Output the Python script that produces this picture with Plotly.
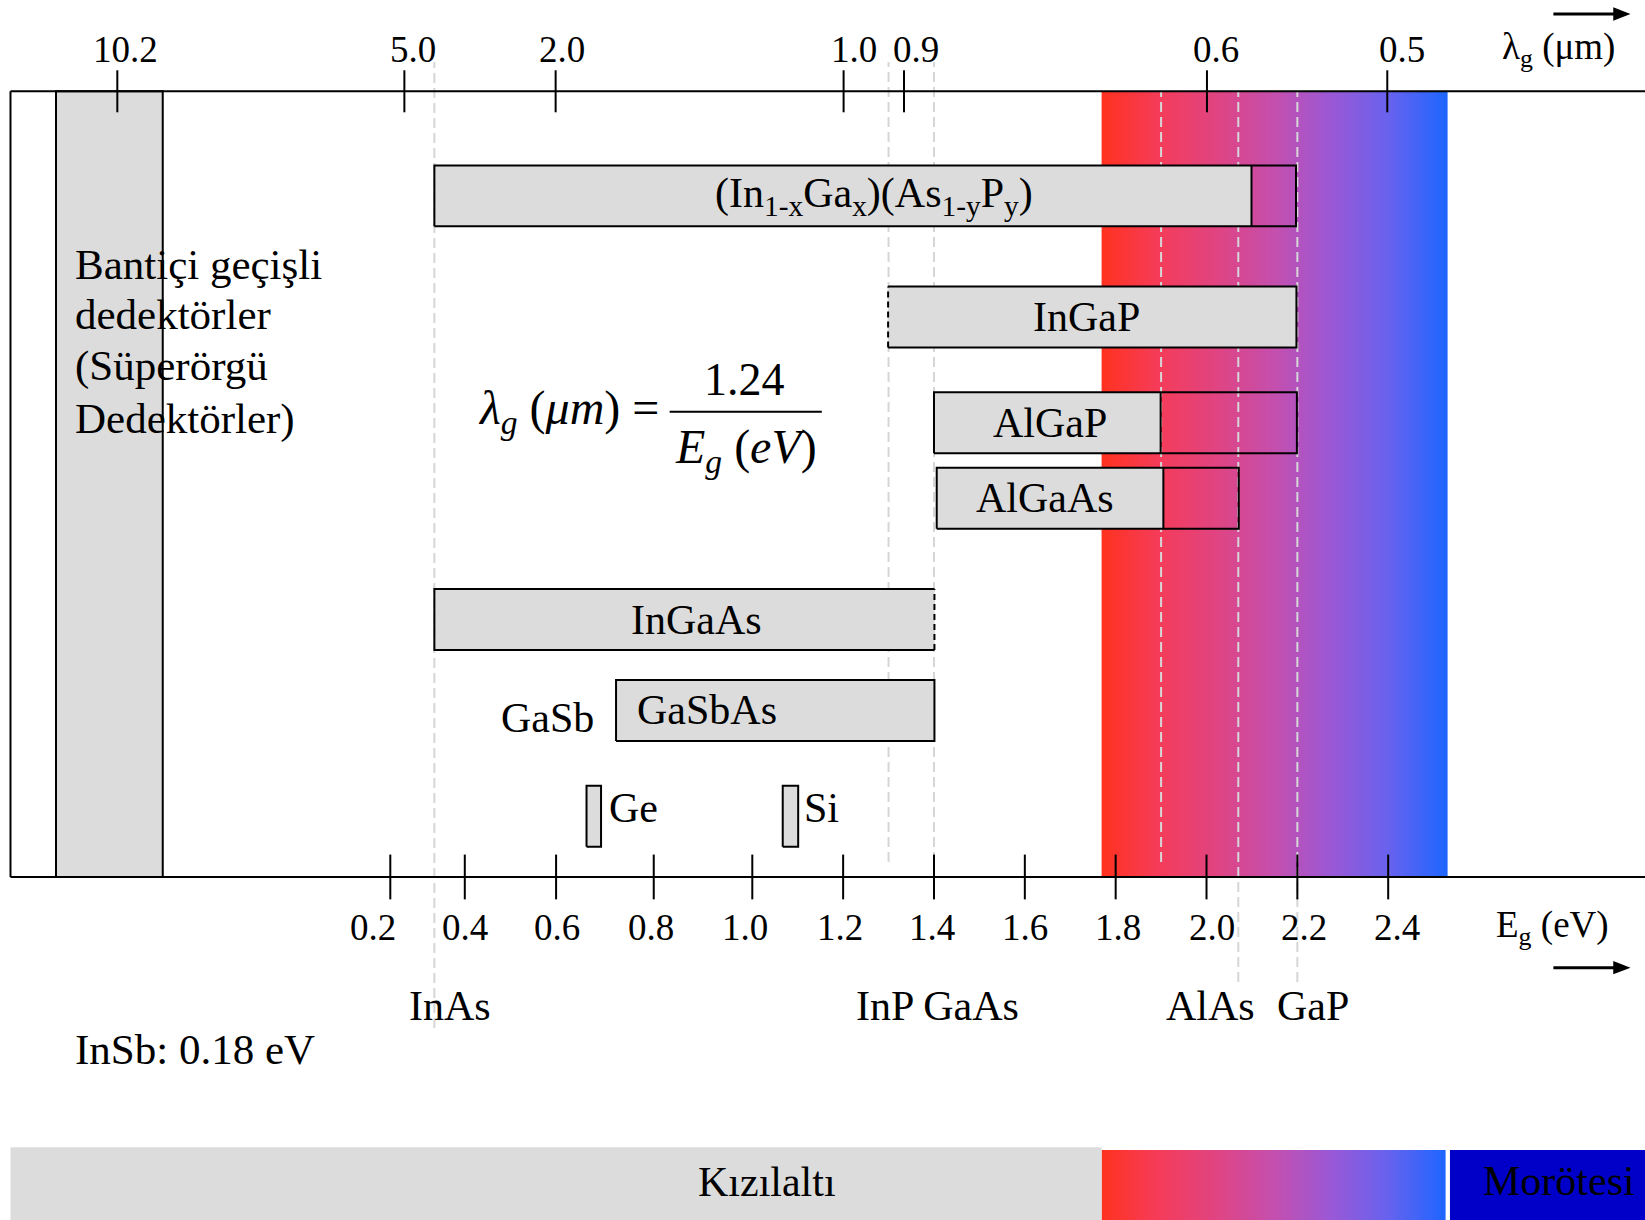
import numpy as np
import plotly.graph_objects as go

# ---------------- data (x positions on the eV axis) ----------------
ev_tick_labels = ["0.2", "0.4", "0.6", "0.8", "1.0", "1.2", "1.4", "1.6", "1.8", "2.0", "2.2", "2.4"]
ev_tick_pos = [0.203, 0.367, 0.568, 0.783, 1.0, 1.2, 1.4, 1.6, 1.8, 2.0, 2.2, 2.4]
ev_label_pos = [0.164, 0.367, 0.570, 0.778, 0.984, 1.192, 1.395, 1.600, 1.806, 2.011, 2.215, 2.420]

lam_tick_labels = ["10.2", "5.0", "2.0", "1.0", "0.9", "0.6", "0.5"]
lam_tick_pos = [-0.398, 0.234, 0.567, 1.201, 1.334, 2.001, 2.398]
lam_label_pos = [-0.381, 0.252, 0.581, 1.224, 1.360, 2.021, 2.430]

# compound band gaps (reference dashed lines), as drawn
ref_names = ["InAs", "InP", "GaAs", "", "AlAs", "GaP"]
ref_eg = [0.30, 1.30, 1.40, 1.90, 2.07, 2.20]

# compound labels under the axis
comp_labels = ["InAs", "InP GaAs", "AlAs", "GaP"]
comp_label_x = [0.334, 1.408, 2.008, 2.235]

# detector material ranges (eV)
bar_names = ["(In<sub>1-x</sub>Ga<sub>x</sub>)(As<sub>1-y</sub>P<sub>y</sub>)", "InGaP", "AlGaP",
             "AlGaAs", "InGaAs", "GaSbAs", "Ge", "Si"]
bar_start = [0.300, 1.299, 1.400, 1.406, 0.300, 0.700, 0.635, 1.067]
bar_end = [2.197, 2.198, 2.199, 2.071, 1.401, 1.401, 0.667, 1.101]
bar_split = [2.099, None, 1.899, 1.905, None, None, None, None]   # beyond split: outline only
bar_dashed_edge = [None, "left", None, None, "right", None, None, None]

# intersubband (superlattice) detector band, visible band, UV
qwip_band = (-0.533, -0.298)
visible_band = (1.769, 2.530)
strip_visible = (1.769, 2.527)
strip_uv_start = 2.536

# ---------------- layout constants ----------------
FONT = "Liberation Serif, Times New Roman, serif"
GRAY = "#DCDCDC"
X_MIN, X_MAX = -0.6563, 2.9654
Y_MIN, Y_MAX = -4.366, 11.162
FRAME_LEFT = -0.6332
Y_BOT, Y_TOP = 0.0, 10.0
BAR_H = 0.775
bar_row = [8.669, 7.127, 5.781, 4.821, 3.277, 2.119, 0.772, 0.772]
bar_label_x = [1.269, 1.736, 1.655, 1.644, 0.877, 0.741, 0.679, 1.109]
bar_label_anchor = ["center", "center", "center", "center", "center", "left", "left", "left"]
bar_label_dy = [0, 0, 0, 0, 0, 0, 0.10, 0.10]
ref_top = [10.373, 10.373, 10.373, 10.0, 10.0, 10.0]
ref_bot = [-1.922, 0.191, 0.0, 0.191, -1.336, -1.336]
ARROW_X = (2.7637, 2.9335)
ARROW_Y = [10.984, -1.154]
HEAD_LEN, HEAD_HALF = 0.038, 0.085

grad_scale = [[0.0, "#FF3220"], [1 / 6, "#F43C5A"], [2 / 6, "#E04482"], [3 / 6, "#C44FAE"],
              [4 / 6, "#9A58D6"], [5 / 6, "#6762EE"], [1.0, "#1E66FF"]]

fig = go.Figure()


def rect_xy(x0, x1, y0, y1):
    return [x0, x1, x1, x0, x0], [y0, y0, y1, y1, y0]


def line(xs, ys, color="black", width=2, dash=None):
    fig.add_trace(go.Scatter(x=xs, y=ys, mode="lines", hoverinfo="skip",
                             line=dict(color=color, width=width, dash=dash)))


def fill(xs, ys, color, lw=0, lc="black"):
    fig.add_trace(go.Scatter(x=xs, y=ys, mode="lines", fill="toself", fillcolor=color,
                             hoverinfo="skip", line=dict(width=lw, color=lc)))


# visible-spectrum gradient inside the frame
n = 300
fig.add_trace(go.Heatmap(x=np.linspace(visible_band[0], visible_band[1], n + 1), y=[Y_BOT, Y_TOP],
                         z=[list(np.linspace(0, 1, n))], colorscale=grad_scale, zmin=0, zmax=1,
                         showscale=False, hoverinfo="skip", zsmooth=False))

# bottom strip: infrared / visible / ultraviolet
fill(*rect_xy(FRAME_LEFT, strip_visible[0], Y_MIN, -3.44), GRAY)
fig.add_trace(go.Heatmap(x=np.linspace(strip_visible[0], strip_visible[1], n + 1), y=[Y_MIN, -3.475],
                         z=[list(np.linspace(0, 1, n))], colorscale=grad_scale, zmin=0, zmax=1,
                         showscale=False, hoverinfo="skip", zsmooth=False))
fill(*rect_xy(strip_uv_start, X_MAX, Y_MIN, -3.475), "#0000C8")

# intersubband detectors band
fill(*rect_xy(qwip_band[0], qwip_band[1], Y_BOT, Y_TOP), GRAY, lw=2)

# reference dashed lines
for e, t, b in zip(ref_eg, ref_top, ref_bot):
    line([e, e], [b, t], color="#D6D6D6", width=2, dash="10px,5px")

# material bars
for i in range(len(bar_names)):
    s, e, sp, de = bar_start[i], bar_end[i], bar_split[i], bar_dashed_edge[i]
    y0, y1 = bar_row[i] - BAR_H / 2, bar_row[i] + BAR_H / 2
    fill(*rect_xy(s, sp if sp is not None else e, y0, y1), GRAY)
    if de == "left":
        line([s, e, e, s], [y0, y0, y1, y1])
        line([s, s], [y0, y1], dash="6px,4px")
    elif de == "right":
        line([e, s, s, e], [y0, y0, y1, y1])
        line([e, e], [y0, y1], dash="6px,4px")
    else:
        line(*rect_xy(s, e, y0, y1))
    if sp is not None:
        line([sp, sp], [y0, y1])

# frame
line([FRAME_LEFT, X_MAX], [Y_TOP, Y_TOP])
line([FRAME_LEFT, X_MAX], [Y_BOT, Y_BOT])
line([FRAME_LEFT, FRAME_LEFT], [Y_BOT, Y_TOP])

# tick marks
fig.add_trace(go.Scatter(x=ev_tick_pos, y=[Y_BOT] * len(ev_tick_pos), mode="markers", hoverinfo="skip",
                         marker=dict(symbol="line-ns", size=32, line=dict(width=2, color="black"))))
fig.add_trace(go.Scatter(x=lam_tick_pos, y=[Y_TOP] * len(lam_tick_pos), mode="markers", hoverinfo="skip",
                         marker=dict(symbol="line-ns", size=30, line=dict(width=2, color="black"))))

# direction arrows (shaft + filled head)
for y in ARROW_Y:
    line([ARROW_X[0], ARROW_X[1] - HEAD_LEN * 0.5], [y, y], width=3)
    fill([ARROW_X[1] - HEAD_LEN, ARROW_X[1], ARROW_X[1] - HEAD_LEN, ARROW_X[1] - HEAD_LEN],
         [y - HEAD_HALF, y, y + HEAD_HALF, y - HEAD_HALF], "black")

anns = []


def ann(text, x, y, size=42, xanchor="center"):
    anns.append(dict(text=text, x=x, y=y, xref="x", yref="y", showarrow=False, xanchor=xanchor,
                     yanchor="middle", font=dict(family=FONT, size=size, color="black")))


# tick labels
for t, x in zip(ev_tick_labels, ev_label_pos):
    ann(t, x, -0.643, size=37)
for t, x in zip(lam_tick_labels, lam_label_pos):
    ann(t, x, 10.529, size=37)

for i, name in enumerate(bar_names):
    ann(name, bar_label_x[i], bar_row[i] + bar_label_dy[i], xanchor=bar_label_anchor[i])
ann("GaSb", 0.548, 2.02)

for t, x in zip(comp_labels, comp_label_x):
    ann(t, x, -1.638)

ann("InSb: 0.18 eV", -0.4945, -2.202, size=43, xanchor="left")
for t, y in zip(["Bantiçi geçişli", "dedektörler", "(Süperörgü", "Dedektörler)"],
                [7.797, 7.157, 6.502, 5.834]):
    ann(t, -0.4945, y, size=43, xanchor="left")

ann("λ<sub>g</sub> (μm)", 2.774, 10.529, size=37)
ann("E<sub>g</sub> (eV)", 2.761, -0.643, size=37)

ann("Kızılaltı", 1.032, -3.882)
ann("Morötesi", 2.776, -3.87)

# formula
ann("<i>λ<sub>g</sub></i> (<i>μm</i>) =", 0.800, 5.93, size=48, xanchor="right")
ann("1.24", 0.982, 6.335, size=46)
ann("<i>E<sub>g</sub></i> (<i>eV</i>)", 0.986, 5.435, size=48)
line([0.818, 1.153], [5.922, 5.922], width=2)

fig.update_layout(
    width=1645, height=1220, margin=dict(l=0, r=0, t=0, b=0, pad=0),
    paper_bgcolor="white", plot_bgcolor="white", showlegend=False,
    xaxis=dict(range=[X_MIN, X_MAX], visible=False, showgrid=False, zeroline=False),
    yaxis=dict(range=[Y_MIN, Y_MAX], visible=False, showgrid=False, zeroline=False),
    annotations=anns,
)

fig.write_html("out.html", config={"displayModeBar": False},
               post_script="document.body.style.margin='0px';")
